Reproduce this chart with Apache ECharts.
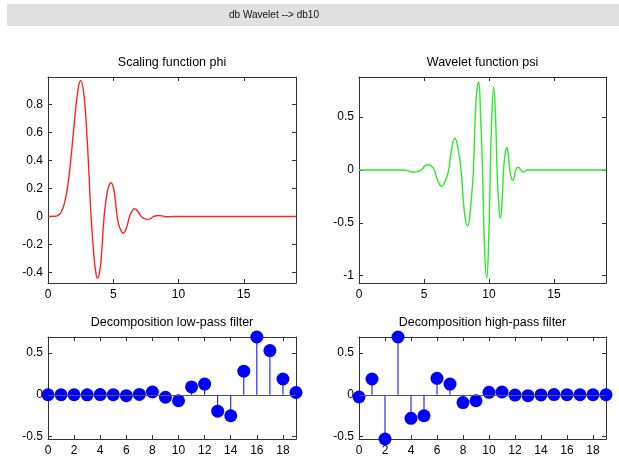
<!DOCTYPE html>
<html><head><meta charset="utf-8">
<script src="https://cdn.jsdelivr.net/npm/echarts@6/dist/echarts.min.js"></script>
<style>html,body{margin:0;padding:0;background:#fff}#c{width:619px;height:461px}</style>
</head><body><div id="c"></div>
<script>
const figTitle = 'db Wavelet --> db10';
const plotTitles = ['Scaling function phi', 'Wavelet function psi', 'Decomposition low-pass filter', 'Decomposition high-pass filter'];

const phiX = [0, 0.5, 0.75, 1.0, 1.25, 1.5, 1.75, 2.0, 2.25, 2.5, 2.75, 3.0, 3.15, 3.3, 3.5, 3.65, 3.79, 3.95, 4.1, 4.3, 4.5, 4.65, 4.82, 5.0, 5.15, 5.3, 5.5, 5.77, 6.0, 6.25, 6.45, 6.62, 6.85, 7.15, 7.4, 7.64, 7.9, 8.1, 8.46, 8.9, 9.2, 9.6, 19];
const phiY = [0, 0.001, 0.006, 0.03, 0.09, 0.21, 0.41, 0.65, 0.87, 0.97, 0.87, 0.55, 0.28, 0.0, -0.26, -0.39, -0.44, -0.40, -0.27, 0.0, 0.15, 0.215, 0.24, 0.21, 0.12, 0.0, -0.08, -0.12, -0.085, 0.0, 0.04, 0.055, 0.04, 0.0, -0.016, -0.021, -0.013, 0.0, 0.007, 0.0, -0.002, 0, 0];

const psiX = [0, 3.4, 3.7, 4.0, 4.3, 4.55, 4.8, 5.05, 5.33, 5.58, 5.8, 6.05, 6.36, 6.65, 6.9, 7.1, 7.38, 7.62, 7.85, 8.1, 8.36, 8.6, 8.8, 9.0, 9.2, 9.35, 9.5, 9.65, 9.82, 9.96, 10.1, 10.22, 10.36, 10.5, 10.62, 10.74, 10.87, 11.0, 11.12, 11.24, 11.36, 11.48, 11.6, 11.71, 11.82, 11.94, 12.05, 12.25, 12.45, 12.65, 12.95, 19];
const psiY = [0, 0, -0.006, -0.016, -0.02, -0.014, 0.0, 0.036, 0.05, 0.034, 0.0, -0.10, -0.153, -0.10, 0.0, 0.18, 0.30, 0.20, 0.0, -0.39, -0.532, -0.33, 0.0, 0.65, 0.833, 0.52, 0.0, -0.72, -1.023, -0.74, 0.0, 0.51, 0.78, 0.51, 0.0, -0.31, -0.46, -0.31, 0.0, 0.15, 0.213, 0.15, 0.0, -0.07, -0.10, -0.07, 0.0, 0.025, 0.0, -0.02, 0, 0];

const filterIdx = [0, 1, 2, 3, 4, 5, 6, 7, 8, 9, 10, 11, 12, 13, 14, 15, 16, 17, 18, 19];
const loD = [0.0000, 0.0001, -0.0001, -0.0007, 0.0020, 0.0014, -0.0107, 0.0036, 0.0332, -0.0295, -0.0714, 0.0931, 0.1274, -0.1959, -0.2498, 0.2812, 0.6885, 0.5272, 0.1882, 0.0267];
const hiD = [-0.0267, 0.1882, -0.5272, 0.6885, -0.2812, -0.2498, 0.1959, 0.1274, -0.0931, -0.0714, 0.0295, 0.0332, -0.0036, -0.0107, -0.0014, 0.0020, 0.0007, -0.0001, -0.0001, 0.0000];

const phiYTicks = [-0.4, -0.2, 0, 0.2, 0.4, 0.6, 0.8];
const psiYTicks = [-1, -0.5, 0, 0.5];
const filtYTicks = [-0.5, 0, 0.5];
const funcXTicks = [0, 5, 10, 15];
const filtXTicks = [0, 2, 4, 6, 8, 10, 12, 14, 16, 18];

const FONT = 'Liberation Sans, Arial, sans-serif';
const AX = '#333';

const grids = [
  {left: 48, top: 77, width: 248, height: 206},
  {left: 359, top: 77, width: 247, height: 206},
  {left: 48, top: 337, width: 248, height: 102},
  {left: 359, top: 337, width: 247, height: 102}
];
const yRanges = [[-0.475, 0.995], [-1.07, 0.88], [-0.5272, 0.6885], [-0.5272, 0.6885]];
const yTicks = [phiYTicks, psiYTicks, filtYTicks, filtYTicks];
const xTicks = [funcXTicks, funcXTicks, filtXTicks, filtXTicks];

const xAxes = [], yAxes = [];
grids.forEach((g, i) => {
  ['bottom', 'top'].forEach(pos => {
    xAxes.push({
      type: 'value', gridIndex: i, position: pos, min: 0, max: 19,
      axisLine: {show: true, onZero: false, lineStyle: {color: AX, width: 1}},
      axisTick: {show: true, inside: true, length: 4, customValues: xTicks[i], lineStyle: {color: AX}},
      axisLabel: {show: pos === 'bottom', customValues: xTicks[i], color: '#000', fontSize: 12, fontFamily: FONT, margin: 6},
      splitLine: {show: false}
    });
  });
  ['left', 'right'].forEach(pos => {
    yAxes.push({
      type: 'value', gridIndex: i, position: pos, min: yRanges[i][0], max: yRanges[i][1],
      axisLine: {show: true, onZero: false, lineStyle: {color: AX, width: 1}},
      axisTick: {show: true, inside: true, length: 4, customValues: yTicks[i], lineStyle: {color: AX}},
      axisLabel: {show: pos === 'left', customValues: yTicks[i], color: '#000', fontSize: 12, fontFamily: FONT, margin: 5},
      splitLine: {show: false}
    });
  });
});

function stemSeries(gi, vals) {
  const data = filterIdx.map((x, k) => [x, vals[k]]);
  return [
    {
      type: 'custom', xAxisIndex: gi * 2, yAxisIndex: gi * 2, data: data, z: 2, clip: false,
      renderItem: (params, api) => {
        const p0 = api.coord([api.value(0), 0]);
        const p1 = api.coord([api.value(0), api.value(1)]);
        return {type: 'line', shape: {x1: p0[0], y1: p0[1], x2: p1[0], y2: p1[1]}, style: {stroke: '#0000ff', lineWidth: 1}};
      },
      markLine: {silent: true, symbol: ['none', 'none'], label: {show: false}, lineStyle: {color: '#555', type: 'solid', width: 1}, data: [{yAxis: 0}], animation: false}
    },
    {
      type: 'scatter', xAxisIndex: gi * 2, yAxisIndex: gi * 2, data: data, z: 3, clip: false,
      symbol: 'circle', symbolSize: 13, itemStyle: {color: '#0000ff', opacity: 1}
    }
  ];
}

const graphics = [
  {type: 'rect', shape: {x: 7, y: 4, width: 612, height: 22}, style: {fill: '#e0e0e0'}, z: -1},
  {type: 'text', x: 274, y: 15, style: {text: figTitle, fill: '#111', font: '10px ' + FONT, textAlign: 'center', textVerticalAlign: 'middle'}}
];
const titleCenters = [[172, 63], [482.5, 63], [172, 323], [482.5, 323]];
plotTitles.forEach((t, i) => {
  graphics.push({type: 'text', x: titleCenters[i][0], y: titleCenters[i][1], style: {text: t, fill: '#000', font: '12.5px ' + FONT, textAlign: 'center', textVerticalAlign: 'middle'}});
});

const chart = echarts.init(document.getElementById('c'), null, {renderer: 'canvas'});
chart.setOption({
  animation: false,
  backgroundColor: '#fff',
  grid: grids,
  xAxis: xAxes,
  yAxis: yAxes,
  graphic: graphics,
  series: [
    {type: 'line', xAxisIndex: 0, yAxisIndex: 0, data: phiX.map((x, k) => [x, phiY[k]]), symbol: 'none', smooth: 0.5, lineStyle: {color: '#ff2424', width: 1.4}},
    {type: 'line', xAxisIndex: 2, yAxisIndex: 2, data: psiX.map((x, k) => [x, psiY[k]]), symbol: 'none', smooth: 0.5, lineStyle: {color: '#2aea2a', width: 1.4}},
    ...stemSeries(2, loD),
    ...stemSeries(3, hiD)
  ]
});
</script></body></html>
